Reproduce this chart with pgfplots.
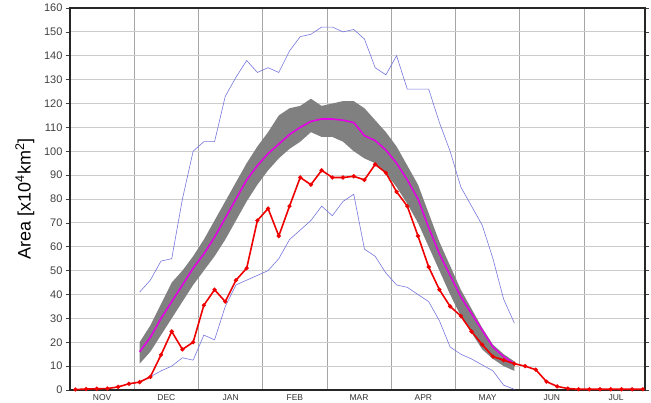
\documentclass[border=0pt]{standalone}
\usepackage{pgfplots}
\pgfplotsset{compat=1.18}
\usepackage{pgfplotstable}
\usepgfplotslibrary{fillbetween}
\usepackage{fontspec}
\setmainfont{Liberation Sans}

\definecolor{obsred}{RGB}{238,0,0}
\definecolor{meanmag}{RGB}{228,0,228}
\definecolor{bandgray}{RGB}{128,128,128}
\definecolor{extblue}{RGB}{118,118,222}

% pentad index k (6 per month, from 1 Nov), observed area
\pgfplotstableread{
k red
0 0.2
1 0.4
2 0.5
3 0.6
4 1.3
5 2.6
6 3.3
7 5.5
8 14.7
9 24.5
10 17
11 20
12 35.5
13 42
14 37
15 46
16 51
17 71
18 76
19 64.5
20 77
21 89
22 86
23 92
24 89
25 89
26 89.5
27 88
28 94.5
29 91
30 83
31 77
32 64.5
33 51.5
34 42
35 35
36 31
37 24.5
38 19
39 14
40 12.5
41 11
42 10
43 8.5
44 3.5
45 1.5
46 0.6
47 0.3
48 0.3
49 0.3
50 0.3
51 0.3
52 0.3
53 0.3
}\obs

% climatology: mean, band upper/lower, max, min
\pgfplotstableread{
k mean upper lower max min
6 16 20 11 41 3.5
7 22 27 16 46 5.5
8 30 36 23 54 8
9 37 45 30 55 10
10 44 50 37 80 13.5
11 51 56 44 100 12.5
12 57 63 50 104 23
13 64 71 56 104 21
14 72 79 63 123 35
15 80 87 71 131 44
16 88 95 79 138 46
17 94 102 86 133 48
18 99 108 92 135 50
19 103 115 97 133 55
20 107 118 101 142 63
21 110 119 104 148 67
22 112.5 122 108 149 71
23 113.5 119 106 152 77
24 113.5 120 106 152 73
25 113 121 104 150 79
26 112 121 100 151 82
27 106.5 118 97 147 59
28 104.5 113 95 135 56
29 100.5 108 91 132 49
30 95 102 85 140 44
31 88 94 78 126 43
32 80 86 70 126 40
33 68 74 60 126 37
34 57 62 50 112 29
35 48 52 40 100 18
36 39 42 31 85 15
37 32 34 24 77 13
38 25 26 17 69 10.5
39 18 19 13 55 8
40 14 15 10 38 2
41 11 12 8 28 0.3
}\clim

\begin{document}
\begin{tikzpicture}
\begin{axis}[
    name=ax,
    scale only axis,
    width=575pt, height=382pt,
    xmin=-0.5, xmax=53.2,
    ymin=0, ymax=160,
    ytick={0,10,...,160},
    xtick={2.5,8.5,...,50.5},
    xticklabels={NOV,DEC,JAN,FEB,MAR,APR,MAY,JUN,JUL},
    minor xtick={5.5,11.5,...,47.5},
    xminorgrids=true, ymajorgrids=true,
    minor x grid style={black!35, line width=0.6pt},
    major y grid style={black!20, line width=0.8pt},
    xtick style={draw=none},
    minor tick length=0pt,
    ytick pos=both,
    tick align=outside,
    major tick length=4pt,
    ytick style={black!75, line width=0.6pt},
    axis line style={black!85, line width=1.3pt},
    yticklabel style={font=\fontsize{11}{12}\selectfont, text=black!75},
    xticklabel style={font=\fontsize{8.5}{9}\selectfont, text=black!80, inner sep=0.5pt},
    /pgf/number format/assume math mode=true,
    ylabel={Area [x10\textsuperscript{4}km\textsuperscript{2}]},
    ylabel style={font=\fontsize{18}{20}\selectfont},
    ylabel shift=3pt,
    clip=false,
]
\addplot[name path=up, draw=none, forget plot] table[x=k, y=upper]{\clim};
\addplot[name path=lo, draw=none, forget plot] table[x=k, y=lower]{\clim};
\addplot[bandgray, draw=none] fill between[of=up and lo];
\addplot[extblue, line width=0.6pt] table[x=k, y=max]{\clim};
\addplot[extblue, line width=0.6pt] table[x=k, y=min]{\clim};
\addplot[meanmag, line width=1.6pt] table[x=k, y=mean]{\clim};
\addplot[obsred, line width=1.6pt, mark=*, mark size=1.2pt] table[x=k, y=red]{\obs};
\end{axis}
\pgfresetboundingbox
\path[use as bounding box] ([shift={(-70pt,-13pt)}]ax.south west) rectangle ([shift={(6pt,8pt)}]ax.north east);
\end{tikzpicture}
\end{document}
